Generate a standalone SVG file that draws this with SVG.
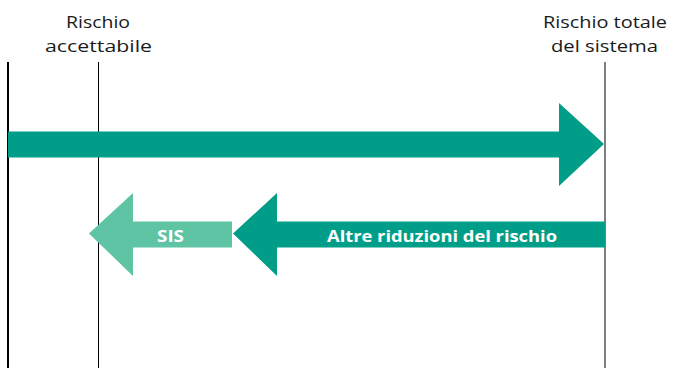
<svg xmlns="http://www.w3.org/2000/svg" width="697" height="368" viewBox="0 0 697 368">
<style>
.lbl{font-family:"Open Sans","Liberation Sans",sans-serif;font-size:17px;fill:#1a1a1a;text-anchor:middle}
.in{font-family:"Open Sans","Liberation Sans",sans-serif;font-size:16.5px;font-weight:bold;fill:#fff;text-anchor:middle}
.dark{fill:#009e88}
.light{fill:#5ec4a4}
</style>
<rect width="697" height="368" fill="#fff"/>
<g id="lines">
<line x1="8" y1="62" x2="8" y2="368" stroke="#000" stroke-width="2"/>
<line x1="98.5" y1="62" x2="98.5" y2="368" stroke="#000" stroke-width="1"/>
<line x1="605" y1="62" x2="605" y2="368" stroke="#555" stroke-width="1.5"/>
</g>
<g id="label-accettabile">
<text class="lbl" x="98" y="28" textLength="64" lengthAdjust="spacingAndGlyphs">Rischio</text>
<text class="lbl" x="98.5" y="51.5" textLength="107" lengthAdjust="spacingAndGlyphs">accettabile</text>
</g>
<g id="label-totale">
<text class="lbl" x="605" y="28" textLength="124" lengthAdjust="spacingAndGlyphs">Rischio totale</text>
<text class="lbl" x="604.5" y="51.5" textLength="107" lengthAdjust="spacingAndGlyphs">del sistema</text>
</g>
<g id="arrow-totale">
<polygon class="dark" points="8,131.5 559,131.5 559,103 604,144 559,186 559,157.5 8,157.5"/>
</g>
<g id="arrow-altre">
<polygon class="dark" points="605,221.5 277,221.5 277,193 233,233.5 277,276 277,247.5 605,247.5"/>
<text class="in" x="442" y="241.5" textLength="230" lengthAdjust="spacingAndGlyphs">Altre riduzioni del rischio</text>
</g>
<g id="arrow-sis">
<polygon class="light" points="232,221.5 133,221.5 133,193 89,233.5 133,276 133,247.5 232,247.5"/>
<text class="in" x="170.5" y="241.5" textLength="27" lengthAdjust="spacingAndGlyphs">SIS</text>
</g>
</svg>
